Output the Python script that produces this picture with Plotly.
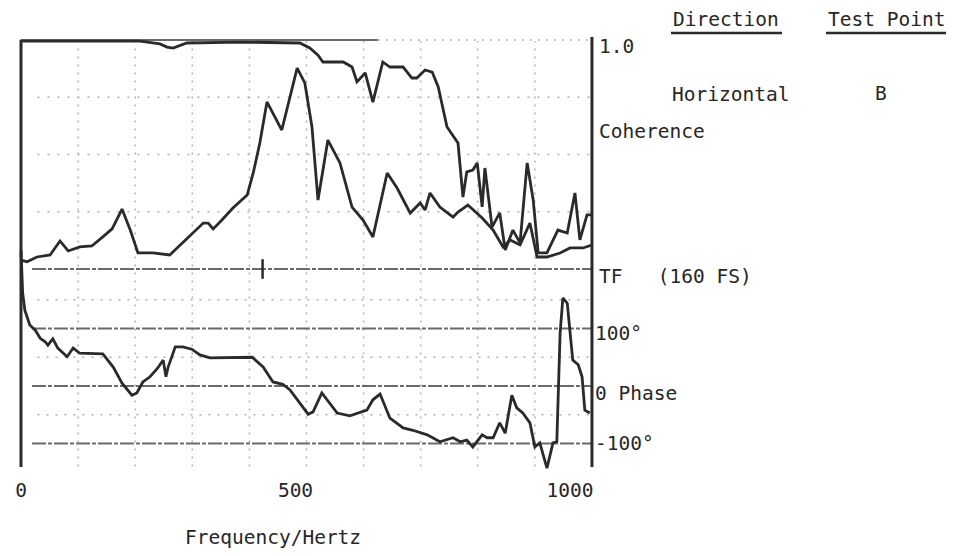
import plotly.graph_objects as go

# ---------------- data ----------------
# Transfer-function magnitude (full scale = 160)
tf_freq = [2, 11, 29, 53, 71, 86, 107, 129, 149, 166, 184, 199, 213, 240, 271, 290, 313, 332, 341, 350,
           366, 386, 412, 423, 435, 448, 475, 503, 517, 530, 541, 559, 581, 603, 623, 641, 667, 685, 709, 727,
           736, 745, 763, 787, 796, 814, 840, 860, 878, 891, 909, 927, 940, 958, 982, 1000, 1024, 1040]
tf_mag = [6, 5, 8.4, 9.8, 19.6, 12.6, 15.4, 16.1, 22.4, 28, 41.9, 27.2, 11.2, 11.2, 9.8, 16.8, 25.2, 32.1, 32.1, 28,
          34.2, 42.6, 51.7, 67.1, 88, 116.7, 97.1, 140.4, 130, 99.2, 48.2, 90.1, 74.1, 43.3, 34.2, 22.4, 67.1, 56.6, 39.1, 46.1,
          41.2, 53.1, 43.3, 36.3, 39.8, 44.7, 35.6, 27.2, 15.4, 20.3, 16.8, 32.1, 8.4, 8.4, 11.2, 14.7, 14.7, 16.8]

# Coherence (0..1)
coh_freq = [2, 217, 253, 266, 277, 302, 399, 508, 526, 541, 550, 587, 603, 612, 627, 641, 659, 672, 696, 712,
            721, 736, 749, 760, 776, 796, 805, 812, 823, 831, 840, 845, 858, 872, 882, 896, 909, 922, 933, 942,
            958, 978, 995, 1009, 1018, 1031, 1040]
coherence = [0.995, 0.995, 0.983, 0.969, 0.965, 0.987, 0.991, 0.987, 0.965, 0.934, 0.904, 0.904, 0.882, 0.817, 0.856,
             0.729, 0.904, 0.882, 0.882, 0.834, 0.834, 0.869, 0.860, 0.795, 0.620, 0.550, 0.314, 0.424, 0.432, 0.463,
             0.271, 0.441, 0.183, 0.245, 0.083, 0.170, 0.114, 0.463, 0.301, 0.070, 0.070, 0.170, 0.157, 0.332, 0.127,
             0.236, 0.236]

# Phase (degrees)
ph_freq = [0, 3, 7, 16, 26, 35, 44, 49, 58, 67, 84, 95, 107, 131, 149, 168, 184, 202, 211, 222,
           235, 248, 259, 264, 268, 281, 295, 311, 326, 344, 381, 421, 441, 459, 477, 490, 523, 532, 548, 576,
           599, 630, 641, 654, 672, 696, 714, 740, 763, 787, 800, 812, 823, 840, 849, 860, 872, 882, 894, 903,
           914, 927, 936, 945, 958, 969, 976, 982, 987, 995, 1005, 1015, 1022, 1027, 1036]
phase = [236, 162, 132, 106, 97, 83, 77, 71, 82, 66, 51, 66, 57, 57, 56, 33, 5, -16, -12, 7,
         16, 30, 45, 16, 33, 68, 68, 64, 54, 49, 50, 50, 33, 7, 3, -7, -49, -45, -12, -47,
         -52, -42, -24, -14, -56, -73, -77, -85, -97, -90, -97, -94, -106, -85, -90, -90, -64, -82, -16, -38,
         -47, -64, -106, -99, -143, -99, -97, 92, 153, 144, 45, 37, 16, -42, -47]

# cursor mark on TF baseline
cursor_freq = [440]
cursor_tf = [0]

x_tick_vals = [0, 500, 1000]
x_tick_text = ["0", "500", "1000"]
phase_labels = [(100, "100°", -5), (0, "0 Phase", -7), (-100, "-100°", 0)]

# ---------------- style ----------------
FONT = "DejaVu Sans Mono"
FS = 19.5
INK = "#2a2a2a"
TXT = "#262626"
GRID_DENSE = "#6a6a6a"
GRID_LIGHT = "#b0b0b0"
DIV = 104  # grid division, Hz

# page has an 8px body margin; figure drawn inside it
PAGE_OFF = 8
W, H = 955 - 2 * PAGE_OFF, 556 - 2 * PAGE_OFF
PL, PR, PT, PB = 14, 599, 34, 472  # plot area in page px


def pxx(x):
    return (x - PL) / (PR - PL)


def pxy(y):
    return (PB - y) / (PB - PT)


fig = go.Figure()

fig.add_trace(go.Scatter(x=coh_freq, y=coherence, yaxis="y2", mode="lines",
                         line=dict(color=INK, width=2.8), hoverinfo="skip"))
fig.add_trace(go.Scatter(x=tf_freq, y=tf_mag, yaxis="y3", mode="lines",
                         line=dict(color=INK, width=2.8), hoverinfo="skip"))
fig.add_trace(go.Scatter(x=ph_freq, y=phase, yaxis="y", mode="lines",
                         line=dict(color=INK, width=2.8), hoverinfo="skip"))
fig.add_trace(go.Scatter(x=cursor_freq, y=cursor_tf, yaxis="y3", mode="markers",
                         marker=dict(symbol="line-ns", size=14, line=dict(color=INK, width=2.5)),
                         hoverinfo="skip"))

shapes = []
# vertical dotted grid
for k in range(1, 10):
    shapes.append(dict(type="line", xref="x", yref="y", x0=k * DIV, x1=k * DIV, y0=-140, y1=600,
                       line=dict(color=GRID_LIGHT, width=1.5, dash="2px,6px"), layer="below"))
# light horizontal grid
for v in [150, 50, -50]:
    shapes.append(dict(type="line", xref="x", yref="y", x0=30, x1=1040, y0=v, y1=v,
                       line=dict(color=GRID_LIGHT, width=1.5, dash="2px,7px"), layer="below"))
for v in [0.25, 0.5, 0.75]:
    shapes.append(dict(type="line", xref="x", yref="y2", x0=30, x1=1040, y0=v, y1=v,
                       line=dict(color=GRID_LIGHT, width=1.5, dash="2px,8px"), layer="below"))
# dense horizontal lines
for v in [100, 0, -100]:
    shapes.append(dict(type="line", xref="x", yref="y", x0=20, x1=1040, y0=v, y1=v,
                       line=dict(color=GRID_DENSE, width=2, dash="14px,2px,4px,2px"), layer="below"))
shapes.append(dict(type="line", xref="x", yref="y2", x0=20, x1=1040, y0=0, y1=0,
                   line=dict(color=GRID_DENSE, width=2, dash="14px,2px,4px,2px"), layer="below"))
shapes.append(dict(type="line", xref="x", yref="y2", x0=0, x1=650, y0=1, y1=1,
                   line=dict(color=GRID_DENSE, width=2), layer="below"))
shapes.append(dict(type="line", xref="x", yref="y2", x0=650, x1=1040, y0=1, y1=1,
                   line=dict(color=GRID_LIGHT, width=1.5, dash="2px,6px"), layer="below"))
# frame: left and right vertical axes
shapes.append(dict(type="line", xref="x", yref="y", x0=0, x1=0, y0=-141, y1=602,
                   line=dict(color=INK, width=3)))
shapes.append(dict(type="line", xref="x", yref="y", x0=1040, x1=1040, y0=-141, y1=607,
                   line=dict(color=INK, width=3)))
# header underlines
shapes.append(dict(type="line", xref="paper", yref="paper", x0=pxx(671), x1=pxx(782), y0=pxy(33), y1=pxy(33),
                   line=dict(color=INK, width=2.5)))
shapes.append(dict(type="line", xref="paper", yref="paper", x0=pxx(826), x1=pxx(946), y0=pxy(33), y1=pxy(33),
                   line=dict(color=INK, width=2.5)))

tfont = dict(family=FONT, size=FS, color=TXT)
ann = []


def add_text(text, x, y, xref="paper", yref="paper", yshift=0, xanchor="left"):
    ann.append(dict(text=text, x=x, y=y, xref=xref, yref=yref, xanchor=xanchor, yanchor="middle",
                    showarrow=False, font=tfont, yshift=yshift, borderpad=0))


add_text("Direction", pxx(672), pxy(20))
add_text("Test Point", pxx(827), pxy(19))
add_text("Horizontal", pxx(671), pxy(94))
add_text("B", pxx(874), pxy(93))
add_text("Frequency/Hertz", pxx(184), pxy(537))
add_text("1.0", pxx(598), 1.0, yref="y2", yshift=-6)
add_text("Coherence", pxx(598), 0.6, yref="y2")
add_text("TF   (160 FS)", pxx(598), 0, yref="y2", yshift=-7)
for val, lab, sh in phase_labels:
    add_text(lab, pxx(594), val, yref="y", yshift=sh)

# axis ranges from px geometry
hz_per_px = 1 / 0.549
x_range = [(PL - 21) * hz_per_px, (PR - 21) * hz_per_px]
ph_range = [-(PB - 386) / 0.575, (386 - PT) / 0.575]
coh_range = [-(PB - 269) / 229, (269 - PT) / 229]
tf_range = [coh_range[0] * 160, coh_range[1] * 160]

fig.update_layout(
    width=W, height=H, autosize=False,
    margin=dict(l=PL - PAGE_OFF, r=W - (PR - PAGE_OFF), t=PT - PAGE_OFF, b=H - (PB - PAGE_OFF), pad=0),
    paper_bgcolor="white", plot_bgcolor="white",
    showlegend=False,
    xaxis=dict(range=x_range, showgrid=False, zeroline=False, showline=False,
               tickvals=x_tick_vals, ticktext=x_tick_text, ticks="outside", ticklen=1,
               tickcolor="rgba(0,0,0,0)", tickfont=tfont),
    yaxis=dict(range=ph_range, visible=False),
    yaxis2=dict(range=coh_range, visible=False, overlaying="y"),
    yaxis3=dict(range=tf_range, visible=False, overlaying="y"),
    shapes=shapes, annotations=ann,
)

fig.write_html("out.html")
